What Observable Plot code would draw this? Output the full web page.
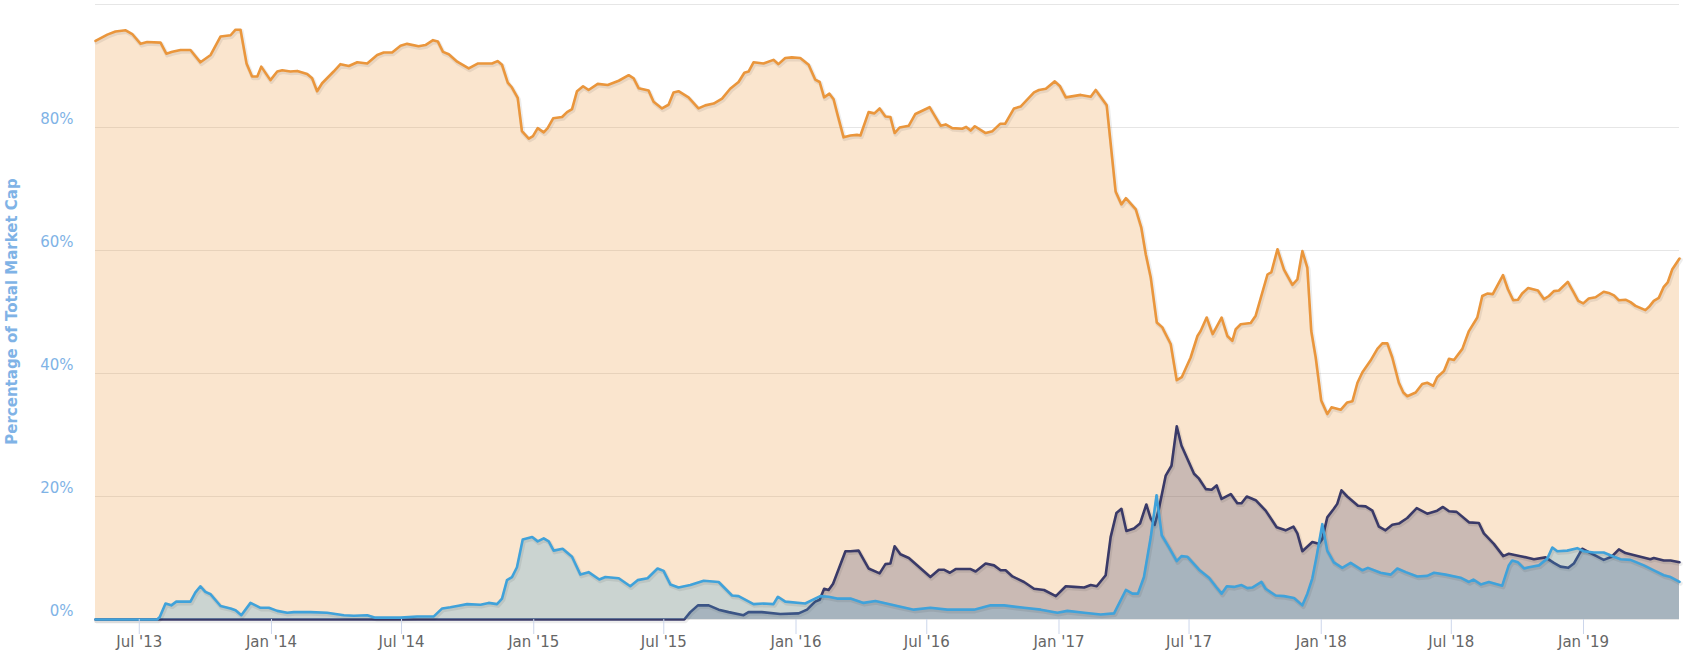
<!DOCTYPE html>
<html>
<head>
<meta charset="utf-8">
<script src="https://cdn.jsdelivr.net/npm/d3@7"></script>
<script src="https://cdn.jsdelivr.net/npm/@observablehq/plot@0.6"></script>
<style>
  html, body { margin: 0; padding: 0; background: #ffffff; }
  #chart svg { display: block; }
</style>
</head>
<body>
<div id="chart"></div>
<script>
// ---- Data (dates as decimal years, shares in % of total market cap) ----
const btcYear = [2013.329,2013.374,2013.405,2013.444,2013.469,2013.501,2013.526,2013.577,2013.599,2013.622,2013.653,2013.691,2013.729,2013.768,2013.806,2013.844,2013.863,2013.882,2013.905,2013.926,2013.946,2013.961,2013.996,2014.022,2014.041,2014.072,2014.098,2014.136,2014.155,2014.174,2014.193,2014.237,2014.263,2014.295,2014.327,2014.365,2014.403,2014.428,2014.460,2014.492,2014.517,2014.561,2014.587,2014.616,2014.634,2014.654,2014.676,2014.708,2014.752,2014.786,2014.841,2014.862,2014.879,2014.901,2014.917,2014.939,2014.955,2014.981,2014.997,2015.015,2015.038,2015.053,2015.074,2015.108,2015.127,2015.146,2015.165,2015.188,2015.209,2015.244,2015.282,2015.324,2015.362,2015.381,2015.400,2015.438,2015.457,2015.489,2015.514,2015.533,2015.552,2015.590,2015.628,2015.654,2015.686,2015.718,2015.749,2015.781,2015.803,2015.819,2015.838,2015.876,2015.914,2015.933,2015.959,2015.984,2016.016,2016.048,2016.073,2016.090,2016.107,2016.127,2016.143,2016.158,2016.181,2016.207,2016.232,2016.245,2016.276,2016.298,2016.318,2016.340,2016.359,2016.375,2016.394,2016.429,2016.454,2016.508,2016.550,2016.569,2016.594,2016.632,2016.647,2016.664,2016.680,2016.721,2016.747,2016.776,2016.795,2016.829,2016.854,2016.905,2016.924,2016.950,2016.984,2017.004,2017.026,2017.083,2017.121,2017.140,2017.182,2017.191,2017.216,2017.238,2017.255,2017.293,2017.314,2017.331,2017.350,2017.373,2017.394,2017.401,2017.426,2017.449,2017.468,2017.502,2017.528,2017.540,2017.563,2017.586,2017.620,2017.642,2017.661,2017.674,2017.693,2017.731,2017.750,2017.795,2017.810,2017.833,2017.858,2017.890,2017.909,2017.928,2017.947,2017.962,2017.979,2018.000,2018.023,2018.039,2018.074,2018.099,2018.119,2018.138,2018.157,2018.188,2018.214,2018.233,2018.252,2018.271,2018.296,2018.313,2018.328,2018.360,2018.385,2018.404,2018.427,2018.442,2018.468,2018.487,2018.506,2018.538,2018.563,2018.595,2018.614,2018.633,2018.654,2018.693,2018.712,2018.732,2018.750,2018.766,2018.789,2018.826,2018.849,2018.868,2018.887,2018.906,2018.940,2018.961,2018.980,2018.999,2019.020,2019.046,2019.077,2019.096,2019.116,2019.135,2019.160,2019.179,2019.198,2019.236,2019.249,2019.268,2019.287,2019.306,2019.321,2019.338,2019.366];
const btcShare = [94.1,95.1,95.6,95.8,95.2,93.6,93.9,93.8,92.0,92.3,92.6,92.6,90.6,91.8,94.8,95.0,95.9,95.9,90.4,88.3,88.3,89.9,87.7,89.1,89.3,89.1,89.2,88.7,88.0,85.9,87.2,89.1,90.3,90.0,90.6,90.4,91.8,92.2,92.2,93.3,93.6,93.2,93.4,94.2,94.0,92.3,91.9,90.7,89.6,90.4,90.4,90.8,90.2,87.3,86.5,84.8,79.4,78.2,78.6,79.9,79.2,79.9,81.5,81.7,82.5,83.0,85.9,86.7,86.1,87.1,86.9,87.6,88.5,88.0,86.4,86.0,84.2,83.1,83.7,85.7,85.9,84.9,83.1,83.6,83.9,84.7,86.3,87.4,88.9,89.1,90.6,90.4,91.0,90.3,91.3,91.4,91.3,90.2,87.8,87.4,84.9,85.5,84.6,82.1,78.4,78.7,78.8,78.7,82.5,82.3,83.1,81.8,81.7,79.1,80.0,80.3,82.2,83.3,80.3,80.5,79.9,79.8,80.1,79.5,80.2,79.1,79.4,80.6,80.6,83.1,83.4,85.7,86.1,86.3,87.5,86.7,84.9,85.3,85.0,86.1,83.6,79.9,69.6,67.5,68.5,66.7,63.7,59.4,55.6,48.3,47.5,46.9,44.8,38.9,39.4,42.6,46.1,46.9,49.1,46.4,49.1,46.1,45.3,47.2,48.0,48.2,49.4,56.1,56.5,60.2,56.9,54.4,55.3,59.9,57.2,46.9,42.6,35.6,33.4,34.5,34.1,35.3,35.5,38.5,40.2,42.1,44.0,44.9,44.9,42.6,38.5,36.9,36.3,36.9,38.3,38.5,38.0,39.4,40.4,42.4,42.2,44.0,46.9,49.1,52.6,53.0,52.9,56.0,53.7,51.9,52.0,53.0,53.9,53.5,52.1,52.6,53.4,53.5,54.9,53.3,51.8,51.4,52.2,52.4,53.3,53.1,52.7,51.9,52.0,51.6,51.0,50.3,50.8,51.8,52.3,54.1,54.8,56.9,58.7];

const ethYear = [2013.329,2015.574,2015.597,2015.626,2015.667,2015.705,2015.743,2015.800,2015.819,2015.870,2015.940,2016.010,2016.042,2016.073,2016.090,2016.107,2016.124,2016.141,2016.188,2016.207,2016.238,2016.276,2016.318,2016.340,2016.359,2016.375,2016.397,2016.429,2016.511,2016.543,2016.562,2016.585,2016.607,2016.664,2016.683,2016.721,2016.753,2016.778,2016.797,2016.823,2016.867,2016.905,2016.943,2016.988,2017.026,2017.058,2017.096,2017.121,2017.144,2017.178,2017.197,2017.219,2017.238,2017.257,2017.286,2017.309,2017.333,2017.350,2017.365,2017.381,2017.407,2017.429,2017.449,2017.467,2017.515,2017.534,2017.560,2017.582,2017.601,2017.620,2017.655,2017.680,2017.696,2017.716,2017.750,2017.788,2017.830,2017.864,2017.894,2017.909,2017.928,2017.966,2017.991,2018.004,2018.023,2018.048,2018.061,2018.077,2018.099,2018.140,2018.169,2018.195,2018.220,2018.245,2018.271,2018.296,2018.328,2018.364,2018.404,2018.442,2018.464,2018.487,2018.516,2018.563,2018.601,2018.620,2018.658,2018.694,2018.715,2018.760,2018.811,2018.855,2018.887,2018.912,2018.942,2018.963,2018.995,2019.027,2019.077,2019.107,2019.135,2019.160,2019.217,2019.255,2019.268,2019.306,2019.332,2019.366];
const ethShare = [0,0,1.2,2.3,2.3,1.6,1.2,0.7,1.2,1.2,0.9,1.0,1.6,2.9,3.2,5.0,4.8,5.8,11.1,11.1,11.2,8.3,7.5,9.0,9.1,11.9,10.6,10.0,6.9,8.1,8.1,7.6,8.2,8.2,7.8,9.1,8.8,8.0,8.0,7.0,6.1,5.0,4.8,3.8,5.4,5.3,5.2,5.6,5.4,7.2,13.4,17.3,18.0,14.4,14.8,15.6,18.7,16.4,15.4,18.0,23.4,25.0,31.4,28.3,23.7,22.9,21.2,21.1,21.8,19.6,20.4,18.9,18.9,20.0,19.4,17.7,15.0,14.5,15.1,14.0,11.1,12.6,12.3,13.1,16.6,18.0,18.8,21.0,20.0,18.5,18.4,17.7,15.1,14.5,15.4,15.6,16.5,18.1,17.2,17.7,18.3,17.6,17.5,15.8,15.7,14.0,12.3,10.3,10.7,10.3,9.8,10.1,9.2,8.6,8.4,9.1,11.5,10.8,9.7,10.2,11.4,10.8,10.2,9.8,10.0,9.6,9.6,9.3];

const xrpYear = [2013.329,2013.564,2013.574,2013.596,2013.618,2013.637,2013.691,2013.710,2013.729,2013.748,2013.768,2013.806,2013.844,2013.863,2013.885,2013.920,2013.958,2013.990,2014.022,2014.060,2014.085,2014.149,2014.212,2014.276,2014.314,2014.365,2014.396,2014.492,2014.555,2014.619,2014.651,2014.682,2014.708,2014.746,2014.797,2014.828,2014.860,2014.879,2014.898,2014.917,2014.936,2014.958,2014.994,2015.015,2015.038,2015.057,2015.076,2015.110,2015.146,2015.178,2015.209,2015.250,2015.273,2015.324,2015.368,2015.396,2015.434,2015.472,2015.495,2015.521,2015.552,2015.597,2015.648,2015.705,2015.756,2015.781,2015.838,2015.876,2015.914,2015.931,2015.959,2016.035,2016.092,2016.124,2016.156,2016.207,2016.257,2016.302,2016.385,2016.448,2016.511,2016.575,2016.677,2016.740,2016.791,2016.867,2016.931,2016.994,2017.032,2017.096,2017.159,2017.210,2017.255,2017.280,2017.301,2017.324,2017.350,2017.372,2017.392,2017.420,2017.449,2017.467,2017.490,2017.534,2017.572,2017.601,2017.620,2017.640,2017.667,2017.696,2017.718,2017.737,2017.772,2017.788,2017.826,2017.858,2017.896,2017.928,2017.947,2017.966,2017.982,2018.004,2018.023,2018.048,2018.080,2018.112,2018.157,2018.178,2018.226,2018.265,2018.290,2018.322,2018.366,2018.404,2018.430,2018.474,2018.531,2018.563,2018.580,2018.608,2018.639,2018.690,2018.715,2018.728,2018.750,2018.773,2018.792,2018.830,2018.862,2018.881,2018.900,2018.938,2018.976,2019.001,2019.039,2019.077,2019.116,2019.141,2019.179,2019.230,2019.268,2019.306,2019.332,2019.366];
const xrpShare = [0,0,0.4,2.6,2.3,2.9,2.9,4.4,5.4,4.5,4.1,2.2,1.8,1.5,0.7,2.7,1.9,1.9,1.4,1.1,1.2,1.2,1.1,0.7,0.6,0.7,0.3,0.3,0.5,0.5,1.8,2.0,2.2,2.5,2.4,2.7,2.5,3.4,6.4,6.9,8.5,13.0,13.4,12.7,13.2,12.7,11.2,11.5,10.2,7.3,7.7,6.5,6.9,6.7,5.4,6.4,6.7,8.3,7.9,5.7,5.2,5.6,6.3,6.1,3.9,3.8,2.5,2.6,2.5,3.7,2.9,2.6,3.8,3.7,3.4,3.4,2.7,3.0,2.2,1.6,1.9,1.6,1.6,2.3,2.3,1.9,1.6,1.1,1.4,1.1,0.8,1.0,4.8,4.2,4.2,6.9,13.4,20.2,13.7,11.7,9.5,10.3,10.2,8.1,6.8,5.2,4.2,5.4,5.3,5.6,5.1,5.2,6.1,5.0,3.9,3.8,3.5,2.3,4.2,6.7,10.2,15.5,11.2,9.3,8.4,9.2,8.0,8.4,7.6,7.3,8.3,7.7,7.0,7.1,7.6,7.3,6.8,6.1,6.5,5.7,6.1,5.5,8.8,9.6,9.3,8.3,8.5,8.8,9.9,11.7,11.1,11.2,11.6,11.1,10.9,10.9,10.2,9.8,9.7,8.8,8.0,7.2,6.9,6.1];

const yTicks = [0, 20, 40, 60, 80];
const gridLines = [0, 20, 40, 60, 80, 100];
const yTitle = "Percentage of Total Market Cap";

// ---- Helpers ----
function yearToDate(y) {
  const yr = Math.floor(y);
  const a = Date.UTC(yr, 0, 1), b = Date.UTC(yr + 1, 0, 1);
  return new Date(a + (y - yr) * (b - a));
}
function series(years, values) {
  return years.map((y, i) => ({date: yearToDate(y), value: values[i]}));
}
const btc = series(btcYear, btcShare);
const eth = series(ethYear, ethShare);
const xrp = series(xrpYear, xrpShare);

const btcColor = "#ea963c";
const ethColor = "#3a3a68";
const xrpColor = "#40a2da";

const xDomain = d3.extent(btc, d => d.date);
const tickDates = d3.utcMonth.every(6).range(xDomain[0], xDomain[1]);
const fmt = d3.utcFormat("%b '%y");

const W = 1686, H = 657;

function seriesMarks(data, color) {
  return [
    Plot.areaY(data, {x: "date", y: "value", fill: color, fillOpacity: 0.25}),
    Plot.lineY(data, {x: "date", y: "value", stroke: "#000", strokeOpacity: 0.07, strokeWidth: 4.5, dx: 1, dy: 1.5, strokeLinejoin: "round"}),
    Plot.lineY(data, {x: "date", y: "value", stroke: color, strokeWidth: 2.6, strokeLinejoin: "round"})
  ];
}

const chart = Plot.plot({
  width: W,
  height: H,
  marginLeft: 95,
  marginRight: 7,
  marginTop: 4,
  marginBottom: 38,
  style: {fontFamily: "'DejaVu Sans', sans-serif", fontSize: "15px", background: "#ffffff"},
  x: {type: "utc", domain: xDomain},
  y: {domain: [0, 100]},
  marks: [
    Plot.ruleY(gridLines, {stroke: "#e6e6e6", strokeWidth: 1}),
    ...seriesMarks(btc, btcColor),
    ...seriesMarks(eth, ethColor),
    ...seriesMarks(xrp, xrpColor),
    Plot.axisX({ticks: tickDates, tickFormat: fmt, tickSize: 15, tickPadding: 2, label: null}),
    Plot.axisY({ticks: yTicks, tickFormat: d => d + "%", tickSize: 0, tickPadding: 22, dy: -8, label: null})
  ]
});

document.getElementById("chart").appendChild(chart);

// ---- Styling of axes ----
const svg = d3.select(chart);
svg.selectAll('g').each(function() {
  const l = this.getAttribute("aria-label") || "";
  const g = d3.select(this);
  if (l.startsWith("x-axis")) {
    if (l.includes("label")) { g.attr("fill", "#666666"); g.selectAll("text").attr("fill", "#666666"); }
    else if (l.includes("tick")) { g.attr("stroke", "#ccd6eb"); g.selectAll("path").attr("stroke", "#ccd6eb"); }
  } else if (l.startsWith("y-axis")) {
    g.attr("fill", "#7fb3e6");
    g.selectAll("text").attr("fill", "#7fb3e6");
  }
});

// Axis title (rotated, centred on plot area)
const midY = (4 + (H - 38)) / 2;
svg.append("text")
  .attr("transform", `translate(17,${midY}) rotate(-90)`)
  .attr("text-anchor", "middle")
  .attr("fill", "#7fb3e6")
  .attr("font-weight", "bold")
  .attr("font-size", "15px")
  .text(yTitle);
</script>
</body>
</html>
